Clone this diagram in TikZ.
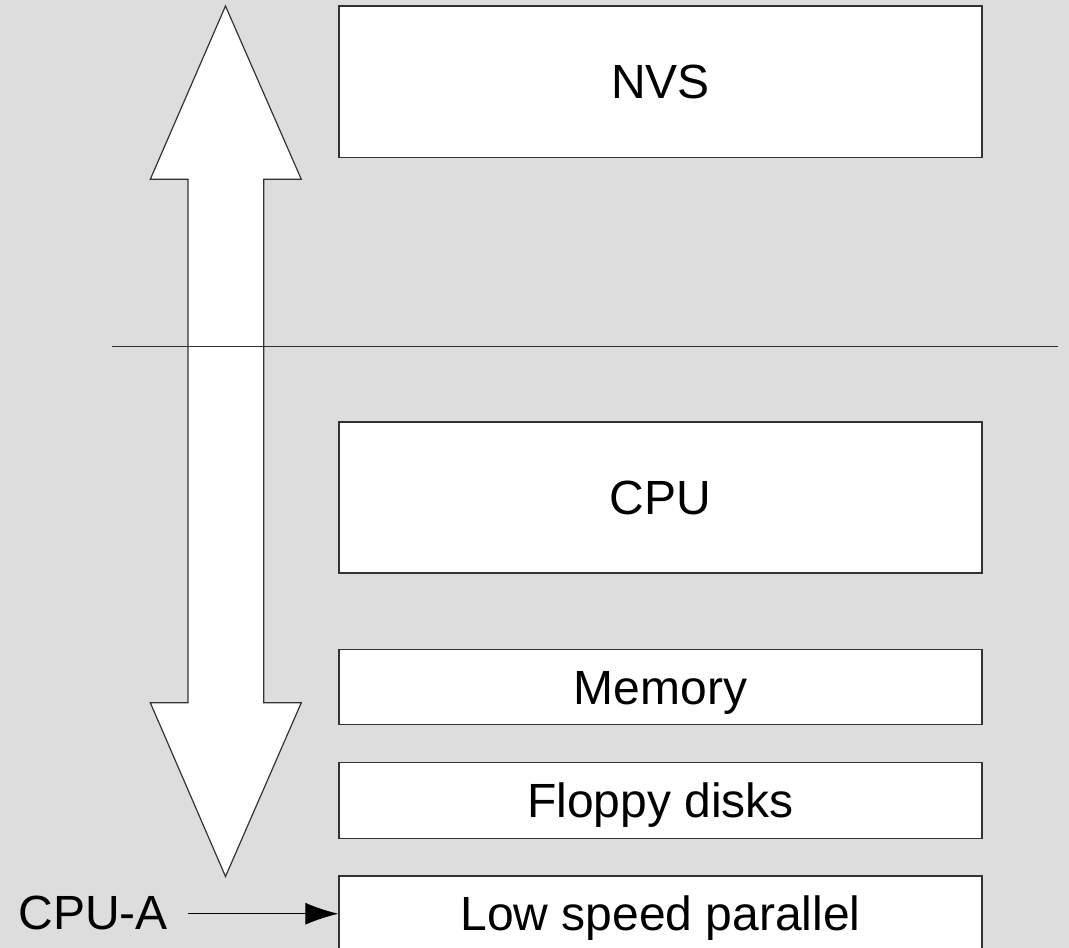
\documentclass[tikz,border=0pt]{standalone}
\usepackage{fontspec}
\setmainfont{Liberation Sans}
\usetikzlibrary{arrows.meta}
\definecolor{bggray}{HTML}{DDDDDD}
\definecolor{edge}{HTML}{333333}
\begin{document}
\begin{tikzpicture}[x=1pt,y=-1pt,
  lbl/.style={font=\fontsize{48}{58}\selectfont, text height=34pt, text depth=0pt, inner sep=0pt},
  unitbox/.style={lbl, draw=edge, line width=1.2pt, fill=white, rectangle, minimum width=643pt},
  bigarrow/.style={draw=edge, line width=1.2pt, fill=white, line join=miter},
  divider/.style={draw=edge, line width=1.3pt},
  feed/.style={draw=black, line width=1pt, -{Latex[length=33pt,width=22pt]}}]
  \fill[bggray] (0,0) rectangle (1069,948);
  \useasboundingbox (0,0) rectangle (1069,948);
  \clip (0,0) rectangle (1069,948);
  % double arrow
  \draw[bigarrow] (225.5,6) -- (301.3,179.3) -- (263.7,179.3) -- (263.7,702.7)
    -- (301.3,702.7) -- (225.5,876.5) -- (150.3,702.7) -- (188,702.7)
    -- (188,179.3) -- (150.3,179.3) -- cycle;
  % divider line
  \coordinate (dl) at (112,346.5);
  \coordinate (dr) at (1058,346.5);
  \draw[divider] (dl) -- (dr);
  % boxes
  \node[unitbox, minimum height=151.7pt] (nvs) at (660.5,81.9) {NVS};
  \node[unitbox, minimum height=151pt] (cpu) at (660.5,497.5) {CPU};
  \node[unitbox, minimum height=75.5pt] (mem) at (660.5,687) {Memory};
  \node[unitbox, minimum height=75.5pt] (flop) at (660.5,800.5) {Floppy disks};
  \node[unitbox, minimum height=75.5pt] (low) at (660.5,913.75) {Low speed parallel};
  % CPU-A label and arrow
  \node[lbl, anchor=east] (cpua) at (168,912) {CPU-A};
  \draw[feed, shorten <=20pt] (cpua.east |- low.west) -- (low.west);
\end{tikzpicture}
\end{document}
